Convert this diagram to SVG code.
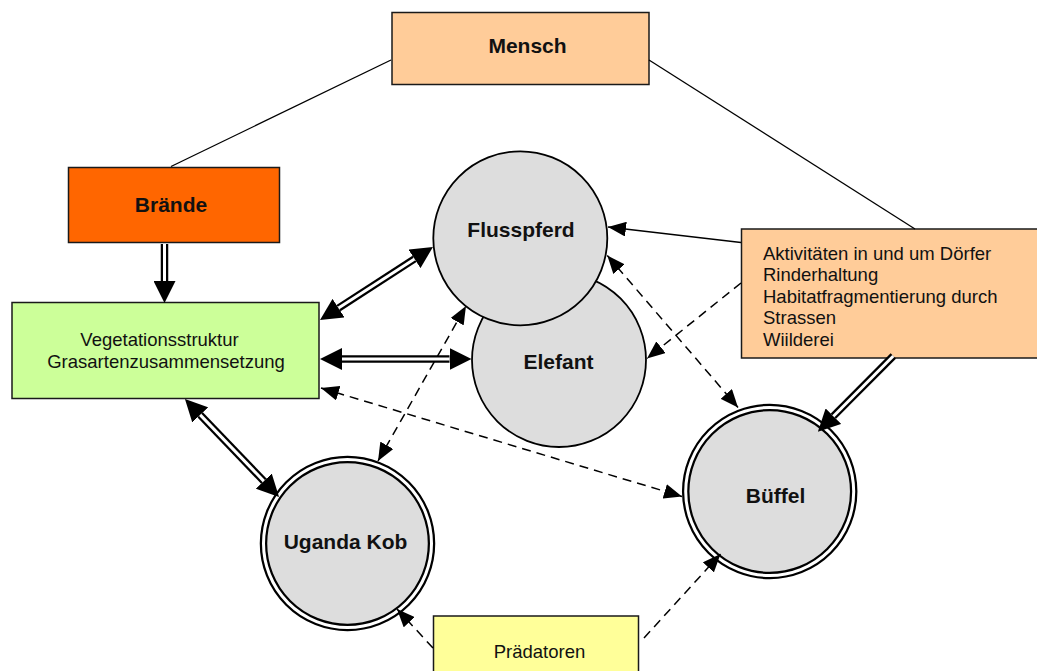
<svg xmlns="http://www.w3.org/2000/svg" width="1037" height="671" viewBox="0 0 1037 671">
  <style>
    .box { stroke: #1a1a1a; stroke-width: 1.5; }
    .circ { fill: #dddddd; stroke: #000; stroke-width: 1.8; }
    .ring { fill: #dddddd; stroke: #000; stroke-width: 7.5; }
    .ring-gap { fill: none; stroke: #fff; stroke-width: 3; }
    .title { font-family: "Liberation Sans", Arial, sans-serif; font-weight: bold; font-size: 21px; fill: #111; text-anchor: middle; }
    .label { font-family: "Liberation Sans", Arial, sans-serif; font-size: 18.5px; fill: #111; }
    .mid { text-anchor: middle; }
    .plain { fill: none; stroke: #000; stroke-width: 1.3; }
    .dash { fill: none; stroke: #000; stroke-width: 1.5; stroke-dasharray: 9 6; }
    .dbl-out { fill: none; stroke: #000; stroke-width: 7.5; }
    .dbl-in { fill: none; stroke: #fff; stroke-width: 3; }
  </style>
  <defs>
    <!-- large head for double-line connectors: base sits at the path end -->
    <marker id="big" markerUnits="userSpaceOnUse" markerWidth="22" markerHeight="22" viewBox="0 0 22 22" refX="0" refY="11" orient="auto-start-reverse">
      <path d="M0,0 L22,11 L0,22 z" fill="#000"/>
    </marker>
    <!-- small head for single lines: tip sits at the path end -->
    <marker id="small" markerUnits="userSpaceOnUse" markerWidth="18" markerHeight="15" viewBox="0 0 18 15" refX="18" refY="7.5" orient="auto-start-reverse">
      <path d="M0,0 L18,7.5 L0,15 z" fill="#000"/>
    </marker>
  </defs>

  <rect width="1037" height="671" fill="#fff"/>

  <!-- nodes -->
  <g id="mensch">
    <rect class="box" x="392" y="12.5" width="257" height="72" fill="#ffcc99"/>
    <text class="title" x="527.5" y="52.7">Mensch</text>
  </g>
  <g id="braende">
    <rect class="box" x="68.5" y="167.5" width="211" height="75" fill="#ff6600"/>
    <text class="title" x="171" y="212">Brände</text>
  </g>
  <g id="vegetation">
    <rect class="box" x="12" y="302.5" width="307" height="96" fill="#ccff99"/>
    <text class="label mid" x="159.5" y="345.5">Vegetationsstruktur</text>
    <text class="label mid" x="166" y="367.5">Grasartenzusammensetzung</text>
  </g>
  <g id="aktivitaeten">
    <rect class="box" x="741.5" y="229" width="300" height="129" fill="#ffcc99"/>
    <text class="label" x="763" y="259.5">Aktivitäten in und um Dörfer</text>
    <text class="label" x="763" y="281.2">Rinderhaltung</text>
    <text class="label" x="763" y="302.8">Habitatfragmentierung durch</text>
    <text class="label" x="763" y="324.4">Strassen</text>
    <text class="label" x="763" y="346">Wiilderei</text>
  </g>
  <g id="praedatoren">
    <rect class="box" x="433.5" y="616" width="205" height="60" fill="#ffff99"/>
    <text class="label mid" x="539.5" y="658">Prädatoren</text>
  </g>
  <g id="elefant">
    <circle class="circ" cx="559" cy="360" r="87"/>
    <text class="title" x="558.5" y="369">Elefant</text>
  </g>
  <g id="flusspferd">
    <circle class="circ" cx="520.3" cy="238.3" r="87"/>
    <text class="title" x="521" y="236.7">Flusspferd</text>
  </g>
  <g id="uganda-kob">
    <circle class="ring" cx="347.5" cy="543.5" r="84"/>
    <circle class="ring-gap" cx="347.5" cy="543.5" r="84"/>
    <text class="title" x="345.5" y="549">Uganda Kob</text>
  </g>
  <g id="bueffel">
    <circle class="ring" cx="769.7" cy="491.5" r="84"/>
    <circle class="ring-gap" cx="769.7" cy="491.5" r="84"/>
    <text class="title" x="775.5" y="503">Büffel</text>
  </g>

  <!-- connectors -->
  <g id="connectors">
    <!-- plain links from Mensch -->
    <path class="plain" d="M391,60 L171,166.5"/>
    <path class="plain" d="M649,60 L915,229"/>

    <!-- double-line arrows -->
    <path class="dbl-out" d="M164.5,244 L164.5,281" marker-end="url(#big)"/>
    <path class="dbl-in" d="M164.5,244 L164.5,281"/>

    <path class="dbl-out" d="M338.5,308.1 L414.5,258.9" marker-start="url(#big)" marker-end="url(#big)"/>
    <path class="dbl-in" d="M338.5,308.1 L414.5,258.9"/>

    <path class="dbl-out" d="M342,359 L449.5,359" marker-start="url(#big)" marker-end="url(#big)"/>
    <path class="dbl-in" d="M342,359 L449.5,359"/>

    <path class="dbl-out" d="M200.2,414.9 L263.8,481.1" marker-start="url(#big)" marker-end="url(#big)"/>
    <path class="dbl-in" d="M200.2,414.9 L263.8,481.1"/>

    <path class="dbl-out" d="M893.3,356 L833.4,416.2" marker-end="url(#big)"/>
    <path class="dbl-in" d="M893.3,356 L833.4,416.2"/>

    <!-- dashed arrows -->
    <path class="dash" d="M321,388 L682,496.5" marker-start="url(#small)" marker-end="url(#small)"/>
    <path class="dash" d="M378,461 L466,306" marker-start="url(#small)" marker-end="url(#small)"/>
    <path class="dash" d="M607.3,255.5 L738,407.5" marker-start="url(#small)" marker-end="url(#small)"/>
    <path class="dash" d="M741,283 L647,358.5" marker-end="url(#small)"/>
    <path class="dash" d="M433,648 L397,609" marker-end="url(#small)"/>
    <path class="dash" d="M644,638 L720.5,554" marker-end="url(#small)"/>

    <!-- solid single arrow -->
    <path class="plain" d="M741,242.5 L608,227" marker-end="url(#small)"/>
  </g>
</svg>
